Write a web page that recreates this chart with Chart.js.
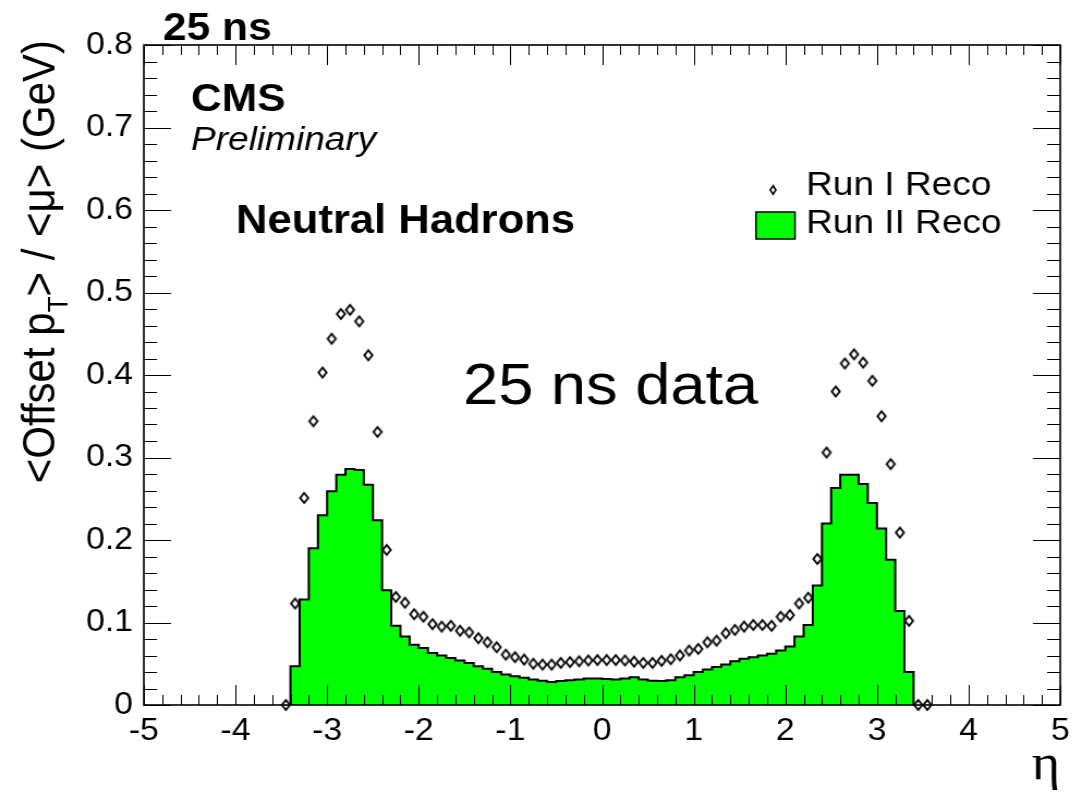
<!DOCTYPE html>
<html>
<head>
<meta charset="utf-8">
<script src="https://cdn.jsdelivr.net/npm/chart.js@4.4.1/dist/chart.umd.min.js"></script>
<style>
html, body { margin: 0; padding: 0; background: #fff; overflow: hidden; }
#wrap { width: 1082px; height: 802px; overflow: hidden; }
#c { display: block; transform: scaleX(1.08963); transform-origin: 0 0; }
</style>
</head>
<body>
<div id="wrap"><canvas id="c" width="993" height="802"></canvas></div>
<script>
// eta bins of the Run II histogram (lower edges, width 0.1)
const runIIBinLow = [-3.4, -3.3, -3.2, -3.1, -3.0, -2.9, -2.8, -2.7, -2.6, -2.5,
    -2.4, -2.3, -2.2, -2.1, -2.0, -1.9, -1.8, -1.7, -1.6, -1.5,
    -1.4, -1.3, -1.2, -1.1, -1.0, -0.9, -0.8, -0.7, -0.6, -0.5,
    -0.4, -0.3, -0.2, -0.1, 0.0, 0.1, 0.2, 0.3, 0.4, 0.5,
    0.6, 0.7, 0.8, 0.9, 1.0, 1.1, 1.2, 1.3, 1.4, 1.5,
    1.6, 1.7, 1.8, 1.9, 2.0, 2.1, 2.2, 2.3, 2.4, 2.5,
    2.6, 2.7, 2.8, 2.9, 3.0, 3.1, 3.2, 3.3];
const runIIBinHigh = 3.4;
const runIIValues = [0.047, 0.128, 0.190, 0.230, 0.259, 0.279, 0.286, 0.285, 0.267, 0.224,
    0.139, 0.096, 0.083, 0.073, 0.069, 0.063, 0.060, 0.057, 0.054, 0.051,
    0.047, 0.044, 0.040, 0.037, 0.035, 0.033, 0.031, 0.0295, 0.028, 0.029,
    0.030, 0.031, 0.032, 0.032, 0.0315, 0.031, 0.032, 0.0335, 0.031, 0.0295,
    0.029, 0.030, 0.0335, 0.036, 0.040, 0.043, 0.046, 0.049, 0.053, 0.056,
    0.058, 0.060, 0.062, 0.066, 0.071, 0.083, 0.097, 0.145, 0.220, 0.263,
    0.279, 0.279, 0.268, 0.245, 0.214, 0.176, 0.114, 0.040];

// Run I points at bin centres
const runIEta = [-3.45, -3.35, -3.25, -3.15, -3.05, -2.95, -2.85, -2.75, -2.65, -2.55,
    -2.45, -2.35, -2.25, -2.15, -2.05, -1.95, -1.85, -1.75, -1.65, -1.55,
    -1.45, -1.35, -1.25, -1.15, -1.05, -0.95, -0.85, -0.75, -0.65, -0.55,
    -0.45, -0.35, -0.25, -0.15, -0.05, 0.05, 0.15, 0.25, 0.35, 0.45,
    0.55, 0.65, 0.75, 0.85, 0.95, 1.05, 1.15, 1.25, 1.35, 1.45,
    1.55, 1.65, 1.75, 1.85, 1.95, 2.05, 2.15, 2.25, 2.35, 2.45,
    2.55, 2.65, 2.75, 2.85, 2.95, 3.05, 3.15, 3.25, 3.35, 3.45,
    3.55];
const runIValues = [0, 0.123, 0.251, 0.344, 0.403, 0.444, 0.474, 0.479, 0.465, 0.424,
    0.331, 0.188, 0.131, 0.124, 0.110, 0.107, 0.098, 0.095, 0.096, 0.090,
    0.088, 0.081, 0.076, 0.070, 0.061, 0.058, 0.055, 0.050, 0.049, 0.049,
    0.051, 0.052, 0.053, 0.054, 0.0545, 0.0545, 0.0545, 0.054, 0.0525, 0.051,
    0.051, 0.0535, 0.0555, 0.060, 0.066, 0.068, 0.076, 0.078, 0.087, 0.091,
    0.095, 0.097, 0.097, 0.096, 0.107, 0.109, 0.123, 0.130, 0.177, 0.306,
    0.380, 0.414, 0.425, 0.415, 0.393, 0.350, 0.292, 0.209, 0.102, 0,
    0];

const xTickValues = [-5, -4, -3, -2, -1, 0, 1, 2, 3, 4, 5];
const xTickLabels = ["-5", "-4", "-3", "-2", "-1", "0", "1", "2", "3", "4", "5"];
const yTickValues = [0, 0.1, 0.2, 0.3, 0.4, 0.5, 0.6, 0.7, 0.8];
const yTickLabels = ["0", "0.1", "0.2", "0.3", "0.4", "0.5", "0.6", "0.7", "0.8"];

// canvas is drawn narrower and stretched back by css (the original is wider than tall)
const S = 1082 / 993;
const FONT = '"Liberation Sans", Arial, sans-serif';

function makeDiamond(w, h, lw) {
    let c = document.createElement('canvas');
    c.width = Math.ceil(w + lw * 2 + 2);
    c.height = Math.ceil(h + lw * 2 + 2);
    let g = c.getContext('2d');
    let cx = c.width / 2, cy = c.height / 2;
    g.strokeStyle = '#000';
    g.lineWidth = lw;
    g.beginPath();
    g.moveTo(cx, cy - h / 2);
    g.lineTo(cx + w / 2, cy);
    g.lineTo(cx, cy + h / 2);
    g.lineTo(cx - w / 2, cy);
    g.closePath();
    g.stroke();
    return c;
}
const diamond = makeDiamond(7.4, 10, 1.9);
const smallDiamond = makeDiamond(5.2, 8.5, 1.6);

var histPoints = [{ x: runIIBinLow[0], y: 0 }];
for (var i = 0; i < runIIBinLow.length; i++) {
    histPoints.push({ x: runIIBinLow[i], y: runIIValues[i] });
}
histPoints.push({ x: runIIBinHigh, y: 0 });

var runIPoints = [];
for (var i = 0; i < runIEta.length; i++) {
    runIPoints.push({ x: runIEta[i], y: runIValues[i] });
}

// ROOT style frame with ticks on all four sides
const frameTicks = {
    id: 'frameTicks',
    afterDatasetsDraw(chart) {
        const ctx = chart.ctx;
        const a = chart.chartArea;
        const x = chart.scales.x, y = chart.scales.y;
        ctx.save();
        ctx.strokeStyle = '#000';
        ctx.lineWidth = 1;
        ctx.beginPath();
        for (let k = 0; k <= 50; k++) {
            let px = Math.round(x.getPixelForValue(-5 + k * 0.2)) + 0.5;
            let len = k % 5 === 0 ? 20 : 10;
            ctx.moveTo(px, a.bottom); ctx.lineTo(px, a.bottom - len);
            ctx.moveTo(px, a.top); ctx.lineTo(px, a.top + len);
        }
        for (let k = 0; k <= 40; k++) {
            let py = Math.round(y.getPixelForValue(k * 0.02)) + 0.5;
            let len = k % 5 === 0 ? 25 : 12;
            ctx.moveTo(a.left, py); ctx.lineTo(a.left + len, py);
            ctx.moveTo(a.right, py); ctx.lineTo(a.right - len, py);
        }
        ctx.stroke();
        ctx.lineWidth = 1.6;
        ctx.strokeRect(a.left, a.top, a.right - a.left, a.bottom - a.top);
        ctx.restore();
    }
};

const textLayer = {
    id: 'textLayer',
    afterDraw(chart) {
        const ctx = chart.ctx;
        ctx.save();
        ctx.fillStyle = '#000';
        ctx.textBaseline = 'alphabetic';
        ctx.textAlign = 'left';

        ctx.font = 'bold 39px ' + FONT;
        ctx.fillText('25 ns', 163 / S, 40);
        ctx.fillText('CMS', 191 / S, 111);
        ctx.font = 'italic 34px ' + FONT;
        ctx.fillText('Preliminary', 191 / S, 150);
        ctx.font = 'bold 40px ' + FONT;
        ctx.fillText('Neutral Hadrons', 236 / S, 233);
        ctx.font = '58px ' + FONT;
        ctx.fillText('25 ns data', 463 / S, 404);

        // legend
        ctx.drawImage(smallDiamond, 773 / S - smallDiamond.width / 2, 190 - smallDiamond.height / 2);
        ctx.font = '34px ' + FONT;
        ctx.fillText('Run I Reco', 806 / S, 195);
        ctx.fillStyle = '#00ff00';
        ctx.fillRect(756 / S, 212, 39 / S, 27);
        ctx.strokeStyle = '#000';
        ctx.lineWidth = 1.5;
        ctx.strokeRect(756 / S, 212, 39 / S, 27);
        ctx.fillStyle = '#000';
        ctx.fillText('Run II Reco', 806 / S, 233);

        // y axis title, end aligned at the top
        ctx.save();
        ctx.translate(54 / S, 40);
        ctx.rotate(-Math.PI / 2);
        const parts = [['<Offset p', 42, 0], ['T', 26, 12], ['> / <\u03bc> (GeV)', 42, 0]];
        let total = 0;
        parts.forEach(p => { ctx.font = p[1] + 'px ' + FONT; total += ctx.measureText(p[0]).width; });
        let xx = -total;
        parts.forEach(p => {
            ctx.font = p[1] + 'px ' + FONT;
            ctx.fillText(p[0], xx, p[2]);
            xx += ctx.measureText(p[0]).width;
        });
        ctx.restore();

        // x axis title
        ctx.textAlign = 'right';
        ctx.font = '50px "Liberation Serif", serif';
        ctx.fillText('\u03b7', 1060 / S, 779);
        ctx.restore();
    }
};

new Chart(document.getElementById('c'), {
    type: 'line',
    data: {
        datasets: [{
            label: 'Run I Reco',
            data: runIPoints,
            showLine: false,
            pointStyle: diamond,
            pointRadius: 5,
            clip: false,
            order: 0
        }, {
            label: 'Run II Reco',
            data: histPoints,
            stepped: 'before',
            fill: 'origin',
            backgroundColor: '#00ff00',
            borderColor: '#000',
            borderWidth: 2,
            pointRadius: 0,
            order: 1
        }]
    },
    options: {
        responsive: false,
        animation: false,
        devicePixelRatio: 1,
        layout: { padding: { left: 32, right: 20, top: 45, bottom: 37 } },
        plugins: {
            legend: { display: false },
            tooltip: { enabled: false }
        },
        scales: {
            x: {
                type: 'linear',
                min: -5,
                max: 5,
                afterBuildTicks: function (s) { s.ticks = xTickValues.map(v => ({ value: v })); },
                afterFit: function (s) { s.height = 60; },
                grid: { display: false, drawTicks: false },
                border: { display: false },
                ticks: {
                    padding: 8,
                    color: '#000',
                    maxRotation: 0,
                    autoSkip: false,
                    font: { family: FONT, size: 31 },
                    callback: function (v, i) { return xTickLabels[i]; }
                }
            },
            y: {
                type: 'linear',
                min: 0,
                max: 0.8,
                afterBuildTicks: function (s) { s.ticks = yTickValues.map(v => ({ value: v })); },
                afterFit: function (s) { s.width = 100; },
                grid: { display: false, drawTicks: false },
                border: { display: false },
                ticks: {
                    padding: 10,
                    color: '#000',
                    autoSkip: false,
                    font: { family: FONT, size: 31 },
                    callback: function (v, i) { return yTickLabels[i]; }
                }
            }
        }
    },
    plugins: [frameTicks, textLayer]
});
</script>
</body>
</html>
